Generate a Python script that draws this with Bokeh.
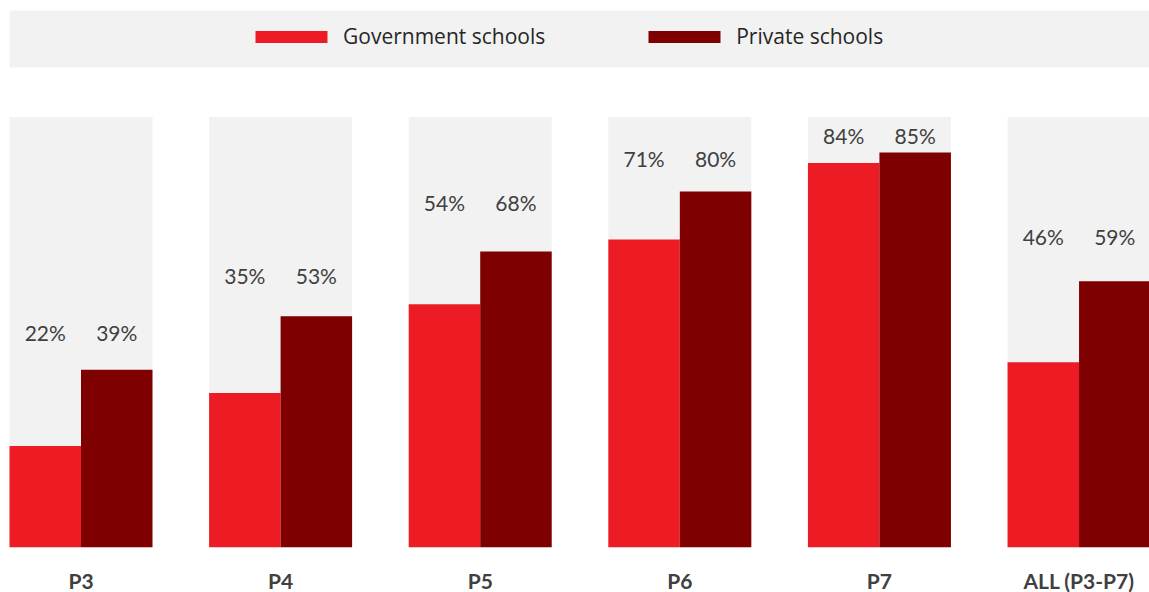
from bokeh.plotting import figure
from bokeh.models import ColumnDataSource, Range1d, Legend, LegendItem, BoxAnnotation
from bokeh.core.properties import value
from bokeh.embed import file_html
from bokeh.resources import INLINE

# ---- data ----
categories = ["P3", "P4", "P5", "P6", "P7", "ALL (P3-P7)"]
gov_labels = ["22%", "35%", "54%", "71%", "84%", "46%"]
priv_labels = ["39%", "53%", "68%", "80%", "85%", "59%"]
# bar heights as drawn in the picture (percent scale)
gov_values = [22.0, 33.5, 52.8, 66.9, 83.5, 40.2]
priv_values = [38.6, 50.2, 64.3, 77.3, 85.8, 57.8]
background_value = 93.5
label_y = [46.7, 59.1, 75.0, 84.5, 89.5, 67.5]
category_label_y = -7.2

RED = "#ED1C24"
DARK = "#7F0000"
BG = "#F2F2F2"
TXT = "#404040"

n = len(categories)
xs = list(range(n))
group_w = 0.7164
bar_w = group_w / 2
off = bar_w / 2

src = ColumnDataSource(dict(
    x=xs,
    xg=[x - off for x in xs],
    xp=[x + off for x in xs],
    gov=gov_values,
    priv=priv_values,
    bg=[background_value] * n,
    ly=label_y,
    gl=gov_labels,
    pl=priv_labels,
    cat=categories,
    cy=[category_label_y] * n,
))

p = figure(width=1149, height=592, output_backend="svg", toolbar_location=None,
           x_range=Range1d(-0.4033, 5.353), y_range=Range1d(-9.85, 118.85),
           min_border=0, outline_line_color=None)
p.grid.visible = False
p.axis.visible = False
p.background_fill_color = "white"
p.border_fill_color = "white"

p.vbar(x="x", top="bg", width=group_w, source=src, fill_color=BG, line_color=None)
rg = p.vbar(x="xg", top="gov", width=bar_w, source=src, fill_color=RED, line_color=None)
rp = p.vbar(x="xp", top="priv", width=bar_w, source=src, fill_color=DARK, line_color=None)

for col, xc in (("gl", "xg"), ("pl", "xp")):
    p.text(x=xc, y="ly", text=col, source=src, text_align="center",
           text_baseline="middle", text_font=value("Lato"),
           text_font_size="21px", text_color=TXT)

p.text(x="x", y="cy", text="cat", source=src, text_align="center",
       text_baseline="middle", text_font=value("Lato"), text_font_style="bold",
       text_font_size="21px", text_color=TXT)

band = BoxAnnotation(left=9, right=1149, top=582, bottom=525,
                     left_units="screen", right_units="screen",
                     top_units="screen", bottom_units="screen",
                     fill_color=BG, fill_alpha=1, line_color=None, level="underlay")
p.add_layout(band)

legend = Legend(items=[LegendItem(label="Government schools", renderers=[rg]),
                       LegendItem(label="Private schools", renderers=[rp])],
                orientation="horizontal", location=(246, 542),
                glyph_width=90, glyph_height=15, label_standoff=7, spacing=94,
                padding=0, margin=0, border_line_color=None,
                background_fill_alpha=0,
                label_text_font="Open Sans", label_text_font_size="21px",
                label_text_color="#262626")
p.add_layout(legend)

open("out.html", "w").write(file_html(p, INLINE))
